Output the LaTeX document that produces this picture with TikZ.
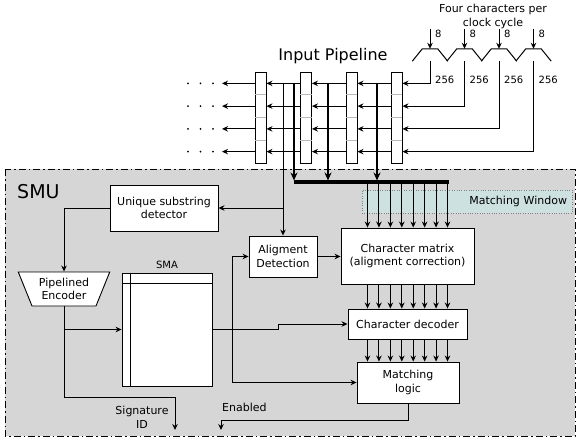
\documentclass[tikz,border=0pt]{standalone}
\usepackage{fontspec}
\setmainfont{DejaVu Sans}
\usetikzlibrary{arrows.meta, shapes.geometric, calc}

\definecolor{smugray}{RGB}{214,214,214}
\definecolor{winfill}{RGB}{205,225,225}

\begin{document}
\begin{tikzpicture}[x=1pt, y=-1pt, >={Stealth[length=6pt, width=5.5pt]},
    box/.style={draw, fill=white, line width=0.9pt, align=center, inner sep=0pt, font=\fontsize{11}{13.5}\selectfont},
    lbl/.style={inner sep=0pt, font=\fontsize{10}{12}\selectfont},
    wire/.style={line width=1pt},
    tap/.style={line width=1.8pt, -{Stealth[length=8pt, width=7pt]}, shorten >=1.5pt},
    regcol/.style={draw, fill=white, line width=0.9pt, minimum width=11pt, minimum height=91pt, inner sep=0pt},
    mux/.style={minimum width=35pt, minimum height=12pt, inner sep=0pt}]

    \useasboundingbox (0,0) rectangle (578,439);

    % SMU region (shaded)
    \draw[dash pattern=on 7pt off 3pt on 1.5pt off 3pt, line width=0.9pt, fill=smugray] (5,169) rectangle (575,436);
    \node[anchor=west, inner sep=0pt, font=\fontsize{19}{22}\selectfont] (smu) at (17,192) {SMU};

    % Matching window (behind the arrows)
    \node[draw=gray, dotted, fill=winfill, minimum width=210pt, minimum height=23pt,
        text width=200pt, inner sep=5pt, align=right, font=\fontsize{11}{13}\selectfont] (win) at (467,201.5) {Matching Window};

    % Input pipeline registers
    \node[font=\fontsize{16}{19}\selectfont] (title) at (333,56) {Input Pipeline};
    \foreach \c/\x in {1/260.5, 2/306, 3/351.5, 4/396.5} {
        \node[regcol] (reg\c) at (\x,117.5) {};
        \foreach \k in {1,2,3}
            \draw[gray!55] ($(reg\c.north west)+(0,22.75*\k)$) -- ($(reg\c.north east)+(0,22.75*\k)$);
    }
    \foreach \r in {1,...,4} {
        \coordinate (row\r) at (0,{72+22.75*(\r-0.5)});
        \coordinate (lend\r) at (222,{72+22.75*(\r-0.5)});
    }

    % Shift between registers
    \foreach \r in {1,...,4} {
        \draw[->, wire] (reg4.west |- row\r) -- (reg3.east |- row\r);
        \draw[->, wire] (reg3.west |- row\r) -- (reg2.east |- row\r);
        \draw[->, wire] (reg2.west |- row\r) -- (reg1.east |- row\r);
        \draw[->, wire] (reg1.west |- row\r) -- (lend\r);
        \foreach \d in {188,200.5,213}
            \fill ($(lend\r)+(\d-222,0)$) circle (0.9pt);
    }

    % Four character muxes (open at the bottom)
    \node[align=center, font=\fontsize{11}{14}\selectfont] (four) at (493,16) {Four characters per\\clock cycle};
    \foreach \m/\x in {1/430, 2/464.5, 3/499, 4/533.5} {
        \node[mux] (mux\m) at (\x,55) {};
        \draw[wire] (mux\m.south west) -- ($(mux\m.north west)+(10,0)$)
            -- ($(mux\m.north east)+(-10,0)$) -- (mux\m.south east);
        \draw[->, wire] ($(mux\m.north)+(0,-20)$) -- (mux\m.north);
        \node[lbl, anchor=west] at ($(mux\m.north)+(5,-15)$) {8};
        \draw[->, wire] (mux\m.south) |- (reg4.east |- row\m);
        \node[lbl, anchor=west] at ($(mux\m.south)+(5,19)$) {256};
    }

    % SMU blocks
    \node[box, minimum width=108pt, minimum height=46pt] (uniq) at (164,208) {Unique substring\\detector};
    \node[box, trapezium, shape border rotate=180, trapezium angle=64, trapezium stretches=true,
        minimum width=92pt, minimum height=34pt] (enc) at (64,289) {Pipelined\\Encoder};
    \node[draw, fill=white, line width=0.9pt, minimum width=90pt, minimum height=113pt, inner sep=0pt] (sma) at (167,329.5) {};
    \node[above, font=\fontsize{10}{12}\selectfont] at (sma.north) {SMA};
    \draw[line width=0.9pt] ($(sma.north west)+(9,0)$) -- ($(sma.south west)+(9,0)$);
    \draw[line width=0.9pt] ($(sma.north west)+(0,11)$) -- ($(sma.north east)+(0,11)$);
    \node[box, minimum width=68pt, minimum height=41pt] (align) at (283,256.5) {Aligment\\Detection};
    \node[box, minimum width=133pt, minimum height=56pt] (cmat) at (407.5,256) {Character matrix\\(aligment correction)};
    \node[box, minimum width=119pt, minimum height=30pt] (cdec) at (407.5,324) {Character decoder};
    \node[box, minimum width=102pt, minimum height=41pt] (mlog) at (408,382.5) {Matching\\logic};

    % Taps from the pipeline
    \path (row1) ++(283,0) coordinate (t0);
    \draw[->, wire] (t0) -- (align.north);
    \draw[->, wire] (t0 |- uniq.east) -- (uniq.east);
    \coordinate (busL) at (294,182);
    \coordinate (busR) at (449,182);
    \foreach \x in {294, 328, 377} {
        \path (row1) ++(\x,0) coordinate (tap);
        \draw[tap] (tap) -- (tap |- busL);
    }
    \draw[line width=3.5pt] (busL) -- (busR);

    % Eight character lanes
    \foreach \k in {0,...,7} {
        \pgfmathsetmacro\dx{-40+11.43*\k}
        \coordinate (lane) at ([xshift=\dx pt]cmat.north);
        \draw[->, wire] (lane |- busL) -- (lane);
        \draw[->, wire] (lane |- cmat.south) -- (lane |- cdec.north);
        \draw[->, wire] (lane |- cdec.south) -- (lane |- mlog.north);
    }

    % Encoder and SMA wiring
    \coordinate (sigbend) at (175,397);
    \coordinate (sigid) at (175,430);
    \draw[->, wire] (uniq.west) -| (enc.north);
    \draw[->, wire] (enc.south) |- (sigbend) -- (sigid);
    \draw[->, wire] (enc.south |- sma.west) -- (sma.west);
    \node[align=center, font=\fontsize{11}{14}\selectfont] (sig) at (142,417) {Signature\\ID};
    \path (sma.east) ++(20,0) coordinate (jn);
    \draw[wire] (sma.east) -- (jn);
    \draw[->, wire] (jn) |- (align.west);
    \draw[->, wire] (jn) |- (mlog.west);
    \draw[->, wire] (jn) -- ++(46,0) |- (cdec.west);
    \draw[->, wire] (align.east) -- (align.east -| cmat.west);

    % Enabled output
    \coordinate (enbend) at (221,420);
    \coordinate (enout) at (221,430);
    \draw[->, wire] (mlog.south) |- (enbend) -- (enout);
    \node[anchor=west, inner sep=0pt, font=\fontsize{11}{13}\selectfont] (en) at (222,407) {Enabled};

\end{tikzpicture}
\end{document}
